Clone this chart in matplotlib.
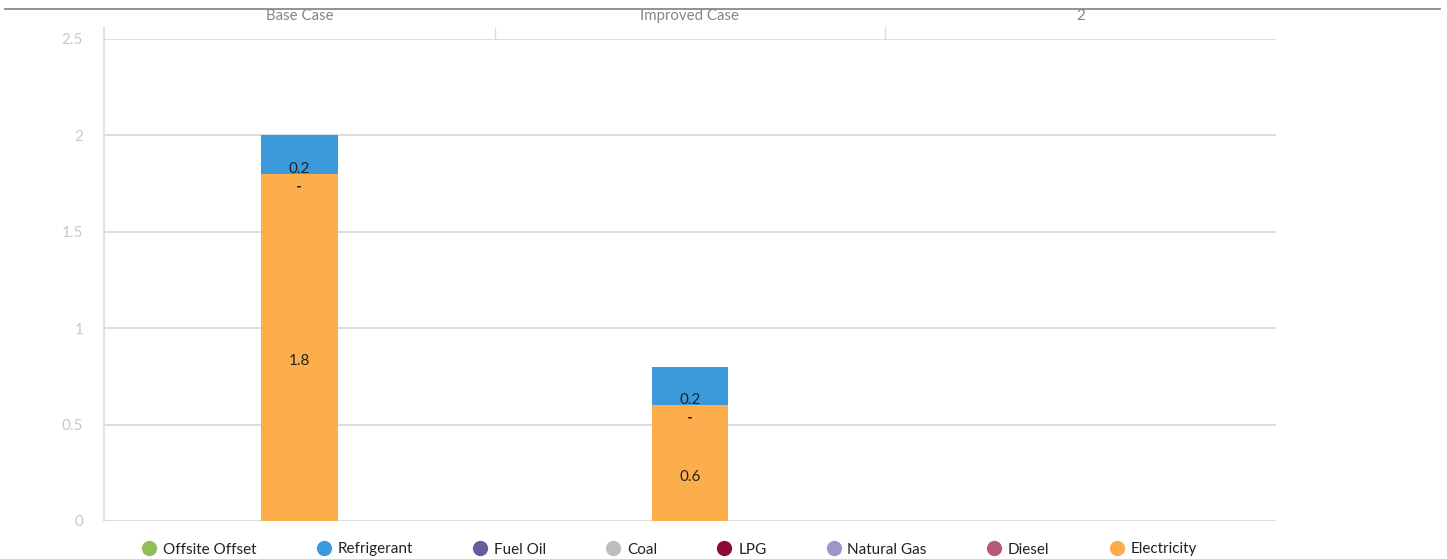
import numpy as np
import matplotlib
matplotlib.use("Agg")
import matplotlib.pyplot as plt
from matplotlib.lines import Line2D

plt.rcParams['font.family'] = ['Lato', 'DejaVu Sans']

categories = ["Base Case", "Improved Case", "2"]
nan = np.nan
# stacked bottom -> top
series_names = ["Electricity", "Diesel", "Natural Gas", "LPG", "Coal", "Fuel Oil", "Refrigerant", "Offsite Offset"]
electricity = [1.8, 0.6, nan]
diesel = [0, 0, nan]
natural_gas = [0, 0, nan]
lpg = [0, 0, nan]
coal = [0, 0, nan]
fuel_oil = [0, 0, nan]
refrigerant = [0.2, 0.2, nan]
offsite_offset = [nan, nan, nan]
series_values = [electricity, diesel, natural_gas, lpg, coal, fuel_oil, refrigerant, offsite_offset]
series_colors = ["#FCAD4C", "#B65A7C", "#9C97C6", "#8C0B3A", "#BDBDBD", "#6A5B9E", "#3A9ADA", "#92BD5B"]
legend_order = ["Offsite Offset", "Refrigerant", "Fuel Oil", "Coal", "LPG", "Natural Gas", "Diesel", "Electricity"]
yticks = [0, 0.5, 1, 1.5, 2, 2.5]
ytick_labels = ["0", "0.5", "1", "1.5", "2", "2.5"]

W, H = 1447, 559
fig = plt.figure(figsize=(W / 100, H / 100), dpi=100)
ax = fig.add_axes([104 / W, 1 - 521 / H, (1276 - 104) / W, (521 - 39) / H])

x = np.arange(len(categories))
bottom = np.zeros(len(categories))
bar_w = 0.197
for name, vals, col in zip(series_names, series_values, series_colors):
    v = np.array(vals, dtype=float)
    vv = np.nan_to_num(v)
    ax.bar(x, vv, bar_w, bottom=bottom, color=col, zorder=3)
    for i in range(len(categories)):
        if np.isnan(v[i]):
            continue
        lab = "-" if v[i] == 0 else f"{v[i]:g}"
        ax.annotate(lab, (x[i], bottom[i] + vv[i] / 2), xytext=(0, -10),
                    textcoords="offset points", ha="center", va="center",
                    fontsize=11, color="#222222", zorder=4)
    bottom = bottom + vv

ax.set_xlim(-0.5, len(categories) - 0.5)
ax.set_ylim(0, 2.5)
ax.set_yticks(yticks)
ax.set_yticklabels(ytick_labels)
ax.yaxis.grid(True, color="#D9D9D9", linewidth=1.3, zorder=0)
ax.set_axisbelow(True)
for s in ["right", "top", "bottom"]:
    ax.spines[s].set_visible(False)
ax.spines["left"].set_color("#DDDDDD")
ax.spines["left"].set_linewidth(1.2)
ax.plot([0, 0], [1, 1.025], transform=ax.transAxes, clip_on=False, color="#DDDDDD", lw=1.2)
ax.tick_params(axis="y", length=0, pad=15, labelsize=11, labelcolor="#C8C8C8")

ax.set_xticks(x)
ax.set_xticklabels(categories)
ax.set_xticks([0.5, 1.5], minor=True)
ax.tick_params(axis="x", which="major", top=True, bottom=False, labeltop=True, labelbottom=False,
               length=0, pad=11.5, labelsize=10.8, labelcolor="#858585")
ax.tick_params(axis="x", which="minor", top=True, bottom=False, length=9, width=1, color="#DDDDDD")

# top rule
fig.add_artist(Line2D([5 / W, 1440 / W], [1 - 9 / H, 1 - 9 / H], color="#8A8A8A", lw=1.3))

handles = [Line2D([], [], marker="o", linestyle="none", markersize=11,
                  markerfacecolor=series_colors[series_names.index(n)], markeredgewidth=0)
           for n in legend_order]
fig.legend(handles, legend_order, loc="center", bbox_to_anchor=(670 / W, 1 - 549.5 / H), ncol=8,
           frameon=False, fontsize=11, handlelength=0.8, handletextpad=0.5, columnspacing=4.0,
           labelcolor="#222222")

fig.savefig("out.png", dpi=100)
